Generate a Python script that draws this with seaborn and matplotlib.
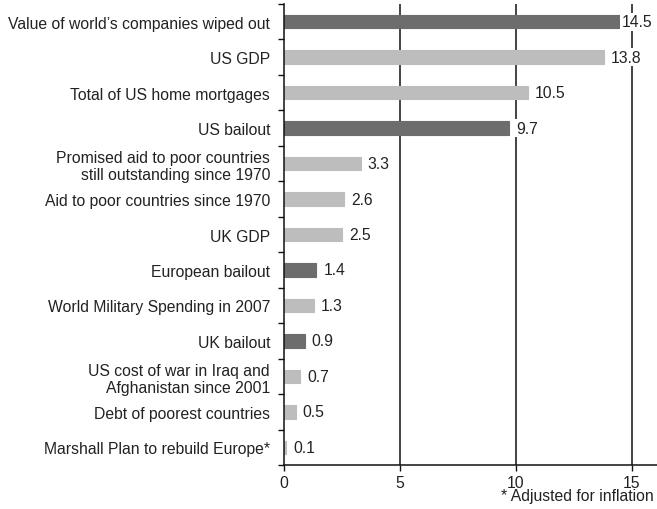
import matplotlib
matplotlib.use("Agg")
import matplotlib.pyplot as plt
import seaborn as sns
import numpy as np
import pandas as pd

categories = [
    "Value of world\u2019s companies wiped out",
    "US GDP",
    "Total of US home mortgages",
    "US bailout",
    "Promised aid to poor countries\nstill outstanding since 1970",
    "Aid to poor countries since 1970",
    "UK GDP",
    "European bailout",
    "World Military Spending in 2007",
    "UK bailout",
    "US cost of war in Iraq and\nAfghanistan since 2001",
    "Debt of poorest countries",
    "Marshall Plan to rebuild Europe*",
]
values = [14.5, 13.8, 10.5, 9.7, 3.3, 2.6, 2.5, 1.4, 1.3, 0.9, 0.7, 0.5, 0.1]
is_bailout = [True, False, False, True, False, False, False, True, False, True, False, False, False]
x_ticks = [0, 5, 10, 15]
footnote = "* Adjusted for inflation"

DARK = "#6d6d6d"
LIGHT = "#bdbdbd"
FS = 11.3

sns.set_theme(style="white")
plt.rcParams["font.family"] = ["Liberation Sans", "DejaVu Sans"]

df = pd.DataFrame({"label": categories, "value": values,
                   "kind": ["bailout" if b else "other" for b in is_bailout]})

fig = plt.figure(figsize=(6.57, 5.10), dpi=100)
ax = fig.add_axes([284/657, 44/510, 1 - 284/657, 461/510])

sns.barplot(data=df, x="value", y="label", hue="kind",
            palette={"bailout": DARK, "other": LIGHT},
            width=0.38, dodge=False, legend=False, ax=ax, saturation=1)
for p in ax.patches:
    p.set_edgecolor(p.get_facecolor())
    p.set_linewidth(0.8)

ax.set_xlim(0, 16.08)
ax.set_ylim(len(categories) - 0.5, -0.5)

for x in x_ticks[1:]:
    ax.axvline(x, color="#111111", lw=1.1, zorder=0.5)

for i, v in enumerate(values):
    off = 1 if v >= 14 else 5
    ax.annotate(f"{v}", xy=(v, i), xytext=(off, 0), textcoords="offset points",
                ha="left", va="center", fontsize=FS, color="#222222",
                bbox=dict(boxstyle="square,pad=0.1", fc="white", ec="none"),
                zorder=5)

ax.set_xticks(x_ticks)
ax.set_xticklabels([str(t) for t in x_ticks], fontsize=FS, color="#222222")
ax.set_yticks(range(len(categories)))
ax.set_yticklabels(categories, fontsize=FS, color="#222222", linespacing=1.2)
ax.set_yticks(np.arange(-0.5, len(categories), 1.0), minor=True)
ax.tick_params(axis="y", which="major", left=True, length=0, pad=10)
ax.tick_params(axis="y", which="minor", left=True, length=4, width=1, color="#111111", direction="out")
ax.tick_params(axis="x", which="major", bottom=True, length=4, width=1, color="#111111", direction="out", pad=3)
ax.set_xlabel("")
ax.set_ylabel("")

for s in ["top", "right"]:
    ax.spines[s].set_visible(False)
for s in ["left", "bottom"]:
    ax.spines[s].set_color("#111111")
    ax.spines[s].set_linewidth(1.1)

fig.text(654/657, 1 - 497/510, footnote, ha="right", va="center",
         fontsize=FS, color="#222222")

fig.savefig("out.png", dpi=100)
